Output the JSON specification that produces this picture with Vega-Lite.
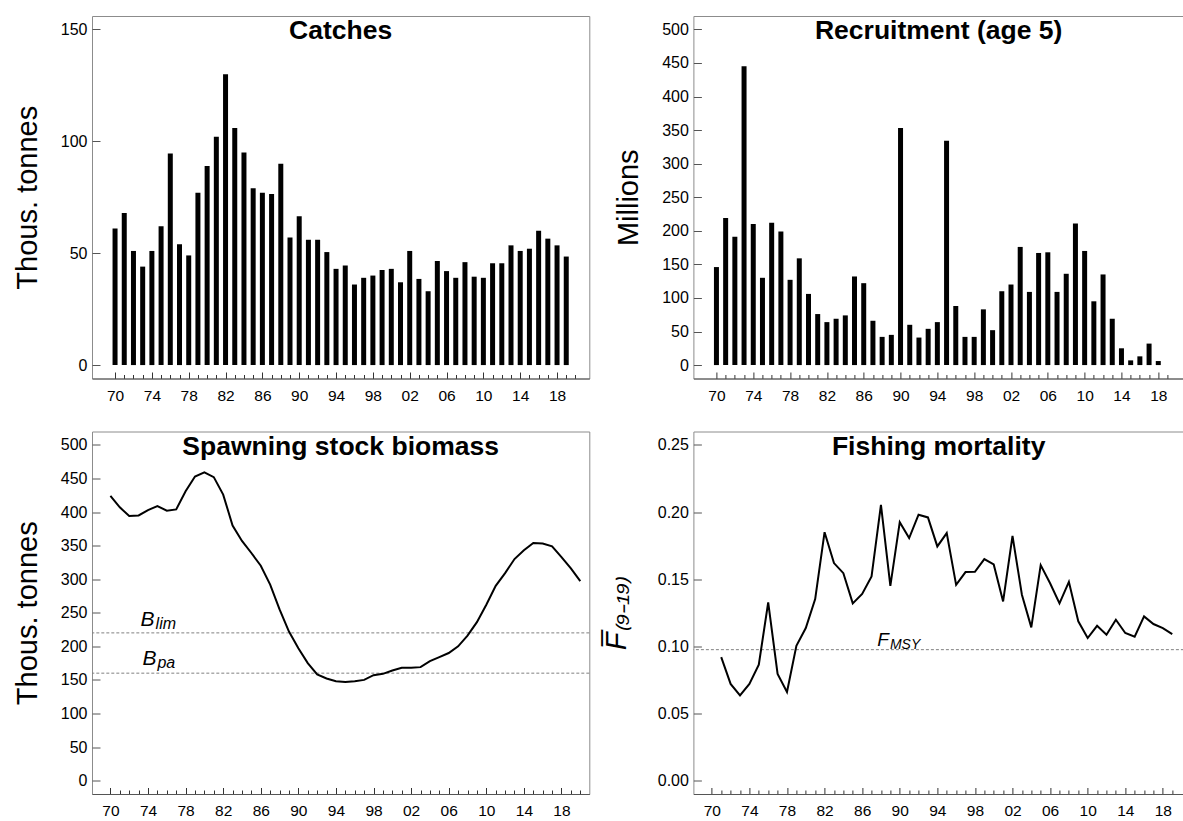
{
  "$schema": "https://vega.github.io/schema/vega-lite/v6.json",
  "background": "white",
  "padding": {"left": 12, "top": 15, "right": 0, "bottom": 0},
  "bounds": "flush",
  "columns": 2,
  "spacing": {"row": 52.5, "column": 103.4},
  "datasets": {
    "catches": [
      {"year":1970,"value":61},{"year":1971,"value":68},{"year":1972,"value":51},{"year":1973,"value":44},{"year":1974,"value":51},
      {"year":1975,"value":62},{"year":1976,"value":94.5},{"year":1977,"value":54},{"year":1978,"value":49},{"year":1979,"value":77},
      {"year":1980,"value":89},{"year":1981,"value":102},{"year":1982,"value":130},{"year":1983,"value":106},{"year":1984,"value":95},
      {"year":1985,"value":79},{"year":1986,"value":77},{"year":1987,"value":76.5},{"year":1988,"value":90},{"year":1989,"value":57},
      {"year":1990,"value":66.5},{"year":1991,"value":56},{"year":1992,"value":56},{"year":1993,"value":50.5},{"year":1994,"value":43},
      {"year":1995,"value":44.5},{"year":1996,"value":36},{"year":1997,"value":39},{"year":1998,"value":40},{"year":1999,"value":42.5},
      {"year":2000,"value":43},{"year":2001,"value":37},{"year":2002,"value":51},{"year":2003,"value":38.5},{"year":2004,"value":33},
      {"year":2005,"value":46.5},{"year":2006,"value":42},{"year":2007,"value":39},{"year":2008,"value":46},{"year":2009,"value":39.5},
      {"year":2010,"value":39},{"year":2011,"value":45.5},{"year":2012,"value":45.5},{"year":2013,"value":53.5},{"year":2014,"value":51},
      {"year":2015,"value":52},{"year":2016,"value":60},{"year":2017,"value":56.5},{"year":2018,"value":53.5},{"year":2019,"value":48.5}
    ],
    "recruitment": [
      {"year":1970,"value":146},{"year":1971,"value":219},{"year":1972,"value":191},{"year":1973,"value":445},{"year":1974,"value":210},
      {"year":1975,"value":130},{"year":1976,"value":212},{"year":1977,"value":199},{"year":1978,"value":127},{"year":1979,"value":159},
      {"year":1980,"value":106},{"year":1981,"value":76},{"year":1982,"value":64},{"year":1983,"value":69},{"year":1984,"value":74},
      {"year":1985,"value":132},{"year":1986,"value":122},{"year":1987,"value":66},{"year":1988,"value":42},{"year":1989,"value":45},
      {"year":1990,"value":353},{"year":1991,"value":60},{"year":1992,"value":41},{"year":1993,"value":54},{"year":1994,"value":64},
      {"year":1995,"value":334},{"year":1996,"value":88},{"year":1997,"value":42},{"year":1998,"value":42},{"year":1999,"value":83},
      {"year":2000,"value":52},{"year":2001,"value":110},{"year":2002,"value":120},{"year":2003,"value":176},{"year":2004,"value":109},
      {"year":2005,"value":167},{"year":2006,"value":168},{"year":2007,"value":109},{"year":2008,"value":136},{"year":2009,"value":211},
      {"year":2010,"value":170},{"year":2011,"value":95},{"year":2012,"value":135},{"year":2013,"value":69},{"year":2014,"value":25},
      {"year":2015,"value":7},{"year":2016,"value":13},{"year":2017,"value":32},{"year":2018,"value":6}
    ],
    "ssb": [
      {"year":1970,"value":424},{"year":1971,"value":407},{"year":1972,"value":394},{"year":1973,"value":395},{"year":1974,"value":403},
      {"year":1975,"value":409},{"year":1976,"value":402},{"year":1977,"value":404},{"year":1978,"value":431},{"year":1979,"value":453},
      {"year":1980,"value":459},{"year":1981,"value":452},{"year":1982,"value":426},{"year":1983,"value":380},{"year":1984,"value":357},
      {"year":1985,"value":339},{"year":1986,"value":320},{"year":1987,"value":292},{"year":1988,"value":255},{"year":1989,"value":222},
      {"year":1990,"value":197},{"year":1991,"value":175},{"year":1992,"value":158},{"year":1993,"value":152},{"year":1994,"value":148},
      {"year":1995,"value":147},{"year":1996,"value":148},{"year":1997,"value":150},{"year":1998,"value":157},{"year":1999,"value":159},
      {"year":2000,"value":164},{"year":2001,"value":168},{"year":2002,"value":168},{"year":2003,"value":169},{"year":2004,"value":178},
      {"year":2005,"value":184},{"year":2006,"value":190},{"year":2007,"value":200},{"year":2008,"value":216},{"year":2009,"value":236},
      {"year":2010,"value":262},{"year":2011,"value":290},{"year":2012,"value":309},{"year":2013,"value":330},{"year":2014,"value":343},
      {"year":2015,"value":354},{"year":2016,"value":353},{"year":2017,"value":349},{"year":2018,"value":333},{"year":2019,"value":316},
      {"year":2020,"value":297}
    ],
    "fbar": [
      {"year":1971,"value":0.092},{"year":1972,"value":0.072},{"year":1973,"value":0.0635},{"year":1974,"value":0.072},
      {"year":1975,"value":0.0863},{"year":1976,"value":0.1327},{"year":1977,"value":0.0794},{"year":1978,"value":0.066},{"year":1979,"value":0.1004},
      {"year":1980,"value":0.1136},{"year":1981,"value":0.1352},{"year":1982,"value":0.185},{"year":1983,"value":0.162},{"year":1984,"value":0.1545},
      {"year":1985,"value":0.132},{"year":1986,"value":0.139},{"year":1987,"value":0.152},{"year":1988,"value":0.2054},{"year":1989,"value":0.145},
      {"year":1990,"value":0.1925},{"year":1991,"value":0.1806},{"year":1992,"value":0.198},{"year":1993,"value":0.196},{"year":1994,"value":0.1744},
      {"year":1995,"value":0.1843},{"year":1996,"value":0.1458},{"year":1997,"value":0.1553},{"year":1998,"value":0.1555},{"year":1999,"value":0.165},
      {"year":2000,"value":0.161},{"year":2001,"value":0.1334},{"year":2002,"value":0.1823},{"year":2003,"value":0.1384},{"year":2004,"value":0.1141},
      {"year":2005,"value":0.1605},{"year":2006,"value":0.147},{"year":2007,"value":0.132},{"year":2008,"value":0.148},{"year":2009,"value":0.1186},
      {"year":2010,"value":0.1062},{"year":2011,"value":0.1153},{"year":2012,"value":0.1086},{"year":2013,"value":0.1198},{"year":2014,"value":0.1099},
      {"year":2015,"value":0.1071},{"year":2016,"value":0.1223},{"year":2017,"value":0.1166},{"year":2018,"value":0.1136},{"year":2019,"value":0.1091}
    ],
    "ssbRefs": [{"name":"Blim","value":220},{"name":"Bpa","value":160}],
    "ssbLabels": [{"main":"B","sub":"lim","year":1974.7,"value":229.6},{"main":"B","sub":"pa","year":1974.9,"value":172.6}],
    "fRefs": [{"name":"Fmsy","value":0.0975}],
    "fLabels": [{"main":"F","sub":"MSY","year":1988.85,"value":0.0999}]
  },
  "concat": [
    {
      "width": 497.3, "height": 362.5,
      "title": "Catches",
      "data": {"name": "catches"},
      "mark": {"type": "bar", "color": "black", "width": 5, "orient": "vertical"},
      "encoding": {
        "x": {"field": "year", "type": "quantitative",
          "scale": {"domain": [1968.04, 2020.96], "nice": false, "zero": false},
          "axis": {"values": [1970,1971,1972,1973,1974,1975,1976,1977,1978,1979,1980,1981,1982,1983,1984,1985,1986,1987,1988,1989,1990,1991,1992,1993,1994,1995,1996,1997,1998,1999,2000,2001,2002,2003,2004,2005,2006,2007,2008,2009,2010,2011,2012,2013,2014,2015,2016,2017,2018,2019,2020]}},
        "y": {"field": "value", "type": "quantitative",
          "scale": {"domain": [-6, 156], "nice": false, "zero": false},
          "axis": {"values": [0, 50, 100, 150], "title": "Thous. tonnes"}}
      }
    },
    {
      "width": 490.5, "height": 362.5,
      "title": "Recruitment (age 5)",
      "data": {"name": "recruitment"},
      "mark": {"type": "bar", "color": "black", "width": 5, "orient": "vertical"},
      "encoding": {
        "x": {"field": "year", "type": "quantitative",
          "scale": {"domain": [1968.04, 2020.24], "nice": false, "zero": false},
          "axis": {"values": [1970,1971,1972,1973,1974,1975,1976,1977,1978,1979,1980,1981,1982,1983,1984,1985,1986,1987,1988,1989,1990,1991,1992,1993,1994,1995,1996,1997,1998,1999,2000,2001,2002,2003,2004,2005,2006,2007,2008,2009,2010,2011,2012,2013,2014,2015,2016,2017,2018,2019]}},
        "y": {"field": "value", "type": "quantitative",
          "scale": {"domain": [-20, 520], "nice": false, "zero": false},
          "axis": {"values": [0,50,100,150,200,250,300,350,400,450,500], "title": "Millions"}}
      }
    },
    {
      "width": 497.3, "height": 362.5,
      "title": "Spawning stock biomass",
      "encoding": {
        "x": {"field": "year", "type": "quantitative",
          "scale": {"domain": [1968.04, 2020.96], "nice": false, "zero": false},
          "axis": {"values": [1970,1971,1972,1973,1974,1975,1976,1977,1978,1979,1980,1981,1982,1983,1984,1985,1986,1987,1988,1989,1990,1991,1992,1993,1994,1995,1996,1997,1998,1999,2000,2001,2002,2003,2004,2005,2006,2007,2008,2009,2010,2011,2012,2013,2014,2015,2016,2017,2018,2019,2020]}},
        "y": {"field": "value", "type": "quantitative",
          "scale": {"domain": [-20, 520], "nice": false, "zero": false},
          "axis": {"values": [0,50,100,150,200,250,300,350,400,450,500], "title": "Thous. tonnes"}}
      },
      "layer": [
        {"data": {"name": "ssbRefs"}, "mark": {"type": "rule", "color": "#808080", "strokeWidth": 1, "strokeDash": [3, 2]},
         "encoding": {"x": null}},
        {"data": {"name": "ssb"}, "mark": {"type": "line", "color": "black", "strokeWidth": 2}},
        {"data": {"name": "ssbLabels"}, "mark": {"type": "text", "align": "right", "baseline": "alphabetic", "fontSize": 21, "fontStyle": "italic", "color": "black"},
         "encoding": {"text": {"field": "main"}}},
        {"data": {"name": "ssbLabels"}, "mark": {"type": "text", "align": "left", "baseline": "alphabetic", "fontSize": 16, "fontStyle": "italic", "dx": 1, "dy": 3, "color": "black"},
         "encoding": {"text": {"field": "sub"}}}
      ]
    },
    {
      "width": 490.5, "height": 362.5,
      "title": "Fishing mortality",
      "encoding": {
        "x": {"field": "year", "type": "quantitative",
          "scale": {"domain": [1968.04, 2020.24], "nice": false, "zero": false},
          "axis": {"values": [1970,1971,1972,1973,1974,1975,1976,1977,1978,1979,1980,1981,1982,1983,1984,1985,1986,1987,1988,1989,1990,1991,1992,1993,1994,1995,1996,1997,1998,1999,2000,2001,2002,2003,2004,2005,2006,2007,2008,2009,2010,2011,2012,2013,2014,2015,2016,2017,2018,2019]}},
        "y": {"field": "value", "type": "quantitative",
          "scale": {"domain": [-0.01, 0.26], "nice": false, "zero": false},
          "axis": {"values": [0, 0.05, 0.1, 0.15, 0.2, 0.25], "format": ".2f", "title": "F\u0305\u208d\u2089\u208b\u2081\u2089\u208e", "titleFontStyle": "italic", "titleX": -62}}
      },
      "layer": [
        {"data": {"name": "fRefs"}, "mark": {"type": "rule", "color": "#808080", "strokeWidth": 1, "strokeDash": [3, 2]},
         "encoding": {"x": null}},
        {"data": {"name": "fbar"}, "mark": {"type": "line", "color": "black", "strokeWidth": 2}},
        {"data": {"name": "fLabels"}, "mark": {"type": "text", "align": "right", "baseline": "alphabetic", "fontSize": 19, "fontStyle": "italic", "color": "black"},
         "encoding": {"text": {"field": "main"}}},
        {"data": {"name": "fLabels"}, "mark": {"type": "text", "align": "left", "baseline": "alphabetic", "fontSize": 14, "fontStyle": "italic", "dx": 1, "dy": 3, "color": "black"},
         "encoding": {"text": {"field": "sub"}}}
      ]
    }
  ],
  "config": {
    "font": "Liberation Sans",
    "view": {"stroke": "#8c8c8c", "strokeWidth": 1},
    "title": {"font": "Liberation Sans", "fontSize": 26.5, "fontWeight": "bold", "anchor": "middle", "frame": "group", "offset": -28.7, "baseline": "alphabetic", "color": "black"},
    "axis": {"grid": false, "labelFont": "Liberation Sans", "titleFont": "Liberation Sans", "labelColor": "black", "titleColor": "black"},
    "axisX": {
      "title": null, "domain": true, "domainColor": "#555555", "domainWidth": 1,
      "labelExpr": "datum.value % 4 == 2 ? slice(toString(datum.value), 2) : ''",
      "labelOverlap": false, "labelFlush": false, "labelFontSize": 15.5, "labelBaseline": "alphabetic", "labelPadding": 28,
      "tickColor": "#333333",
      "tickSize": {"condition": {"test": "datum.value % 4 == 2", "value": -6.5}, "value": -4}
    },
    "axisY": {
      "domain": false, "tickSize": -8, "tickColor": "#555555", "labelPadding": 13, "labelFontSize": 16,
      "titleFontSize": 29, "titleFontWeight": "normal", "titleX": -50
    }
  }
}
